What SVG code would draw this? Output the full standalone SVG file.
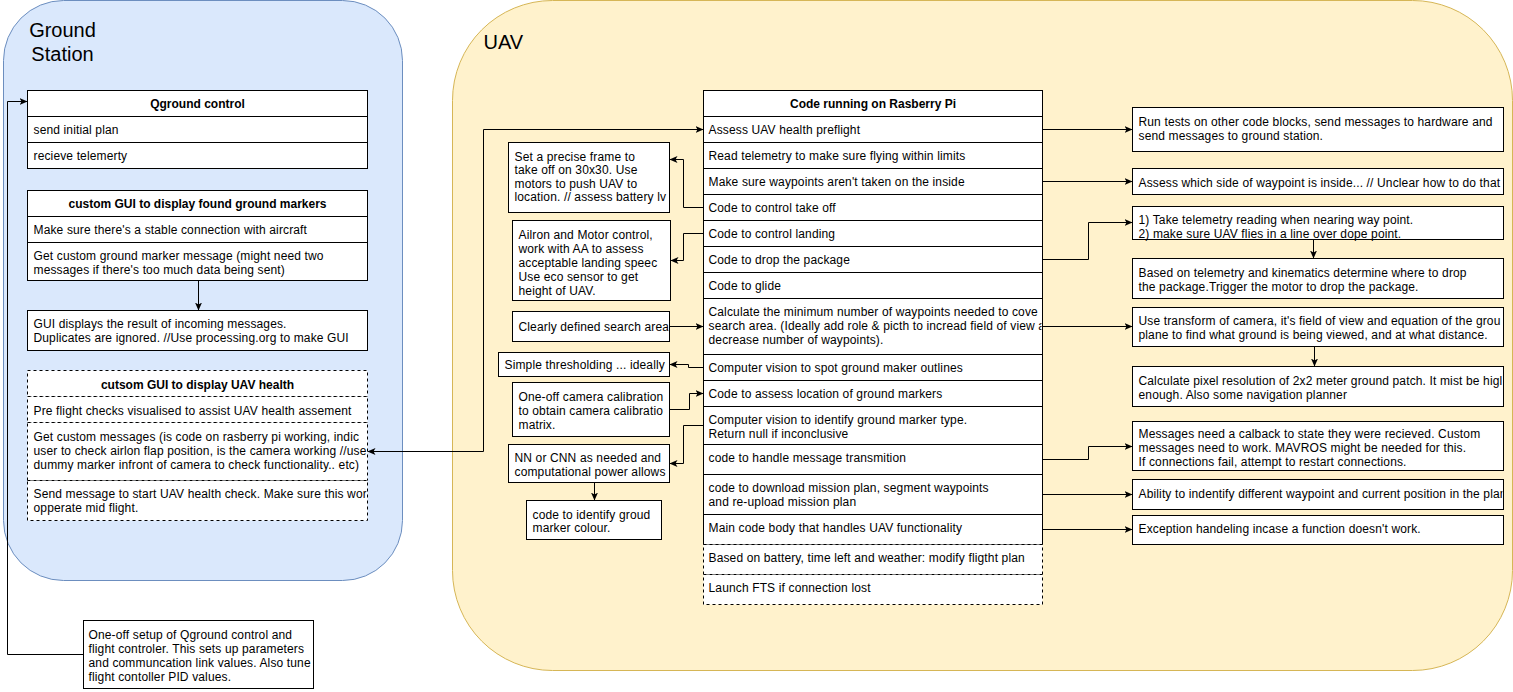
<svg xmlns="http://www.w3.org/2000/svg" width="1513" height="692" viewBox="0 0 1513 692">
<style>
text{font-family:"Liberation Sans",Arial,sans-serif;font-size:12px;letter-spacing:0.14px;fill:#000}
.b{font-weight:bold;text-anchor:middle;letter-spacing:0}
.t{font-size:20px;letter-spacing:0}
.box{fill:#fff;stroke:#000;stroke-width:1}
.dash{fill:#fff;stroke:#000;stroke-width:1;stroke-dasharray:3 3}
.edge{fill:none;stroke:#000;stroke-width:1}
</style>
<defs>
<marker id="arr" viewBox="0 0 8 7" refX="8" refY="3.5" markerWidth="8" markerHeight="7" markerUnits="userSpaceOnUse" orient="auto-start-reverse">
<path d="M0,0 L8,3.5 L0,7 L2,3.5 Z" fill="#000"/>
</marker>
<clipPath id="cGS"><rect x="27" y="370" width="339" height="160"/></clipPath>
<clipPath id="cSetup"><rect x="83" y="620" width="229" height="68"/></clipPath>
<clipPath id="cSet"><rect x="508" y="142" width="160" height="70"/></clipPath>
<clipPath id="cAil"><rect x="512" y="220" width="157" height="80"/></clipPath>
<clipPath id="cClear"><rect x="512" y="311" width="156" height="30"/></clipPath>
<clipPath id="cSimple"><rect x="498" y="352" width="170" height="24"/></clipPath>
<clipPath id="cCam"><rect x="512" y="382" width="156" height="54"/></clipPath>
<clipPath id="cNN"><rect x="508" y="444" width="160" height="38"/></clipPath>
<clipPath id="cCalc"><rect x="703" y="298" width="338" height="56"/></clipPath>
<clipPath id="cRight"><rect x="1132" y="100" width="370" height="460"/></clipPath>
</defs>
<g transform="translate(0.5,0.5)">
<g id="ground-station">
<rect x="3" y="0" width="399" height="580" rx="60" ry="60" fill="#dae8fc" stroke="#6c8ebf"/>
<text class="t" x="62" y="36" text-anchor="middle">Ground</text>
<text class="t" x="62" y="60" text-anchor="middle">Station</text>
</g>
<g id="uav">
<rect x="452" y="0" width="1060" height="670" rx="100" ry="100" fill="#fff2cc" stroke="#d6b656"/>
<text class="t" x="483" y="48">UAV</text>
</g>

<g id="connectors">
<path class="edge" d="M83,654 H7 V101 H27" marker-end="url(#arr)"/>
<path class="edge" d="M198,280 V310" marker-end="url(#arr)"/>
<path class="edge" d="M367,451 H483 V129 H703" marker-start="url(#arr)" marker-end="url(#arr)"/>
<path class="edge" d="M703,207 H683 V159 H669" marker-end="url(#arr)"/>
<path class="edge" d="M703,233 H683 V260 H670" marker-end="url(#arr)"/>
<path class="edge" d="M669,326 H703" marker-end="url(#arr)"/>
<path class="edge" d="M703,367 H688 V364 H669" marker-end="url(#arr)"/>
<path class="edge" d="M669,409 H689 V393 H703" marker-end="url(#arr)"/>
<path class="edge" d="M703,425 H683 V463 H669" marker-end="url(#arr)"/>
<path class="edge" d="M594,482 V500" marker-end="url(#arr)"/>
<path class="edge" d="M1042,129 H1132" marker-end="url(#arr)"/>
<path class="edge" d="M1042,181 H1132" marker-end="url(#arr)"/>
<path class="edge" d="M1042,259 H1088 V222 H1132" marker-end="url(#arr)"/>
<path class="edge" d="M1313,239 V258" marker-end="url(#arr)"/>
<path class="edge" d="M1042,326 H1132" marker-end="url(#arr)"/>
<path class="edge" d="M1314,346 V366" marker-end="url(#arr)"/>
<path class="edge" d="M1042,459 H1088 V446 H1132" marker-end="url(#arr)"/>
<path class="edge" d="M1042,494 H1132" marker-end="url(#arr)"/>
<path class="edge" d="M1042,529 H1132" marker-end="url(#arr)"/>
</g>

<g id="qground-control">
<rect class="box" x="27" y="90" width="340" height="26"/>
<rect class="box" x="27" y="116" width="340" height="26"/>
<rect class="box" x="27" y="142" width="340" height="26"/>
<text class="b" x="197" y="107.5">Qground control</text>
<text x="33" y="133.5">send initial plan</text>
<text x="33" y="159.5">recieve telemerty</text>
</g>

<g id="custom-gui-markers">
<rect class="box" x="27" y="190" width="340" height="26"/>
<rect class="box" x="27" y="216" width="340" height="26"/>
<rect class="box" x="27" y="242" width="340" height="38"/>
<text class="b" x="197" y="207.5">custom GUI to display found ground markers</text>
<text x="33" y="233.5">Make sure there's a stable connection with aircraft</text>
<text x="33" y="259.5">Get custom ground marker message (might need two</text>
<text x="33" y="273.5">messages if there's too much data being sent)</text>
</g>

<g id="gui-displays">
<rect class="box" x="27" y="310" width="340" height="40"/>
<text x="33" y="327.5">GUI displays the result of incoming messages.</text>
<text x="33" y="341.5">Duplicates are ignored. //Use processing.org to make GUI</text>
</g>

<g id="custom-gui-health">
<rect class="dash" x="27" y="370" width="340" height="26"/>
<rect class="dash" x="27" y="396" width="340" height="26"/>
<rect class="dash" x="27" y="422" width="340" height="58"/>
<rect class="dash" x="27" y="480" width="340" height="40"/>
<text class="b" x="197" y="388">cutsom GUI to display UAV health</text>
<text x="33" y="414">Pre flight checks visualised to assist UAV health assement</text>
<g clip-path="url(#cGS)">
<text x="33" y="440">Get custom messages (is code on rasberry pi working, indic</text>
<text x="33" y="454">user to check airlon flap position, is the camera working //use</text>
<text x="33" y="468">dummy marker infront of camera to check functionality.. etc)</text>
<text x="33" y="497.5">Send message to start UAV health check. Make sure this wor</text>
<text x="33" y="511">opperate mid flight.</text>
</g>
</g>

<g id="one-off-setup">
<rect class="box" x="83" y="620" width="230" height="68"/>
<g clip-path="url(#cSetup)">
<text x="88" y="638">One-off setup of Qground control and</text>
<text x="88" y="652">flight controler. This sets up parameters</text>
<text x="88" y="666">and communcation link values. Also tune</text>
<text x="88" y="680">flight contoller PID values.</text>
</g>
</g>

<g id="code-rasberry-pi">
<rect class="box" x="703" y="90" width="339" height="26"/>
<rect class="box" x="703" y="116" width="339" height="26"/>
<rect class="box" x="703" y="142" width="339" height="26"/>
<rect class="box" x="703" y="168" width="339" height="26"/>
<rect class="box" x="703" y="194" width="339" height="26"/>
<rect class="box" x="703" y="220" width="339" height="26"/>
<rect class="box" x="703" y="246" width="339" height="26"/>
<rect class="box" x="703" y="272" width="339" height="26"/>
<rect class="box" x="703" y="298" width="339" height="56"/>
<rect class="box" x="703" y="354" width="339" height="26"/>
<rect class="box" x="703" y="380" width="339" height="26"/>
<rect class="box" x="703" y="406" width="339" height="38"/>
<rect class="box" x="703" y="444" width="339" height="30"/>
<rect class="box" x="703" y="474" width="339" height="40"/>
<rect class="box" x="703" y="514" width="339" height="30"/>
<rect class="dash" x="703" y="544" width="339" height="30"/>
<rect class="dash" x="703" y="574" width="339" height="30"/>
<text class="b" x="872.5" y="107.5">Code running on Rasberry Pi</text>
<text x="708" y="133.5">Assess UAV health preflight</text>
<text x="708" y="159.5">Read telemetry to make sure flying within limits</text>
<text x="708" y="185.5">Make sure waypoints aren't taken on the inside</text>
<text x="708" y="211.5">Code to control take off</text>
<text x="708" y="237.5">Code to control landing</text>
<text x="708" y="263.5">Code to drop the package</text>
<text x="708" y="289.5">Code to glide</text>
<g clip-path="url(#cCalc)">
<text x="708" y="315.5">Calculate the minimum number of waypoints needed to cove</text>
<text x="708" y="329.5">search area. (Ideally add role &amp; picth to incread field of view a</text>
<text x="708" y="343.5">decrease number of waypoints).</text>
</g>
<text x="708" y="371.5">Computer vision to spot ground maker outlines</text>
<text x="708" y="397.5">Code to assess location of ground markers</text>
<text x="708" y="423.5">Computer vision to identify ground marker type.</text>
<text x="708" y="437.5">Return null if inconclusive</text>
<text x="708" y="461.5">code to handle message transmition</text>
<text x="708" y="491.5">code to download mission plan, segment waypoints</text>
<text x="708" y="505.5">and re-upload mission plan</text>
<text x="708" y="531.5">Main code body that handles UAV functionality</text>
<text x="708" y="561.5">Based on battery, time left and weather: modify fligtht plan</text>
<text x="708" y="591.5">Launch FTS if connection lost</text>
</g>

<g id="set-precise-frame">
<rect class="box" x="508" y="142" width="161" height="70"/>
<g clip-path="url(#cSet)">
<text x="514" y="160">Set a precise frame to</text>
<text x="514" y="173.5">take off on 30x30. Use</text>
<text x="514" y="187">motors to push UAV to</text>
<text x="514" y="200.5">location. // assess battery lv</text>
</g>
</g>
<g id="ailron-motor">
<rect class="box" x="512" y="220" width="158" height="80"/>
<g clip-path="url(#cAil)">
<text x="518" y="238">Ailron and Motor control,</text>
<text x="518" y="252">work with AA to assess</text>
<text x="518" y="266">acceptable landing speec</text>
<text x="518" y="280">Use eco sensor to get</text>
<text x="518" y="294">height of UAV.</text>
</g>
</g>
<g id="search-area">
<rect class="box" x="512" y="311" width="157" height="30"/>
<g clip-path="url(#cClear)"><text x="518" y="330">Clearly defined search area</text></g>
</g>
<g id="thresholding">
<rect class="box" x="498" y="352" width="171" height="24"/>
<g clip-path="url(#cSimple)"><text x="504" y="368">Simple thresholding ... ideally</text></g>
</g>
<g id="camera-calibration">
<rect class="box" x="512" y="382" width="157" height="54"/>
<g clip-path="url(#cCam)">
<text x="518" y="400">One-off camera calibration</text>
<text x="518" y="414">to obtain camera calibratio</text>
<text x="518" y="428">matrix.</text>
</g>
</g>
<g id="nn-cnn">
<rect class="box" x="508" y="444" width="161" height="38"/>
<g clip-path="url(#cNN)">
<text x="514" y="461.5">NN or CNN as needed and</text>
<text x="514" y="475">computational power allows</text>
</g>
</g>
<g id="marker-colour">
<rect class="box" x="526" y="500" width="135" height="39"/>
<text x="532" y="518">code to identify groud</text>
<text x="532" y="531.5">marker colour.</text>
</g>

<g id="run-tests">
<rect class="box" x="1132" y="107" width="371" height="44"/>
<g clip-path="url(#cRight)">
<text x="1138" y="125">Run tests on other code blocks, send messages to hardware and</text>
</g>
<text x="1138" y="139">send messages to ground station.</text>
</g>
<g id="assess-side">
<rect class="box" x="1132" y="168" width="371" height="26"/>
<g clip-path="url(#cRight)">
<text x="1138" y="186">Assess which side of waypoint is inside... // Unclear how to do that</text>
</g>
</g>
<g id="telemetry-reading">
<rect class="box" x="1132" y="206" width="371" height="33"/>
<text x="1138" y="223">1) Take telemetry reading when nearing way point.</text>
<text x="1138" y="237">2) make sure UAV flies in a line over dope point.</text>
</g>
<g id="drop-package">
<rect class="box" x="1132" y="258" width="371" height="40"/>
<text x="1138" y="276">Based on telemetry and kinematics determine where to drop</text>
<text x="1138" y="290">the package.Trigger the motor to drop the package.</text>
</g>
<g id="camera-transform">
<rect class="box" x="1132" y="307" width="371" height="39"/>
<g clip-path="url(#cRight)">
<text x="1138" y="324">Use transform of camera, it's field of view and equation of the grou</text>
</g>
<text x="1138" y="338">plane to find what ground is being viewed, and at what distance.</text>
</g>
<g id="pixel-resolution">
<rect class="box" x="1132" y="366" width="371" height="40"/>
<g clip-path="url(#cRight)">
<text x="1138" y="384">Calculate pixel resolution of 2x2 meter ground patch. It mist be higl</text>
</g>
<text x="1138" y="398">enough. Also some navigation planner</text>
</g>
<g id="messages-callback">
<rect class="box" x="1132" y="421" width="371" height="49"/>
<text x="1138" y="437.5">Messages need a calback to state they were recieved. Custom</text>
<text x="1138" y="451.5">messages need to work. MAVROS might be needed for this.</text>
<text x="1138" y="465">If connections fail, attempt to restart connections.</text>
</g>
<g id="identify-waypoint">
<rect class="box" x="1132" y="479" width="371" height="30"/>
<g clip-path="url(#cRight)">
<text x="1138" y="497.5">Ability to indentify different waypoint and current position in the plan</text>
</g>
</g>
<g id="exception-handling">
<rect class="box" x="1132" y="515" width="371" height="29"/>
<text x="1138" y="532">Exception handeling incase a function doesn't work.</text>
</g>
</g>
</svg>
